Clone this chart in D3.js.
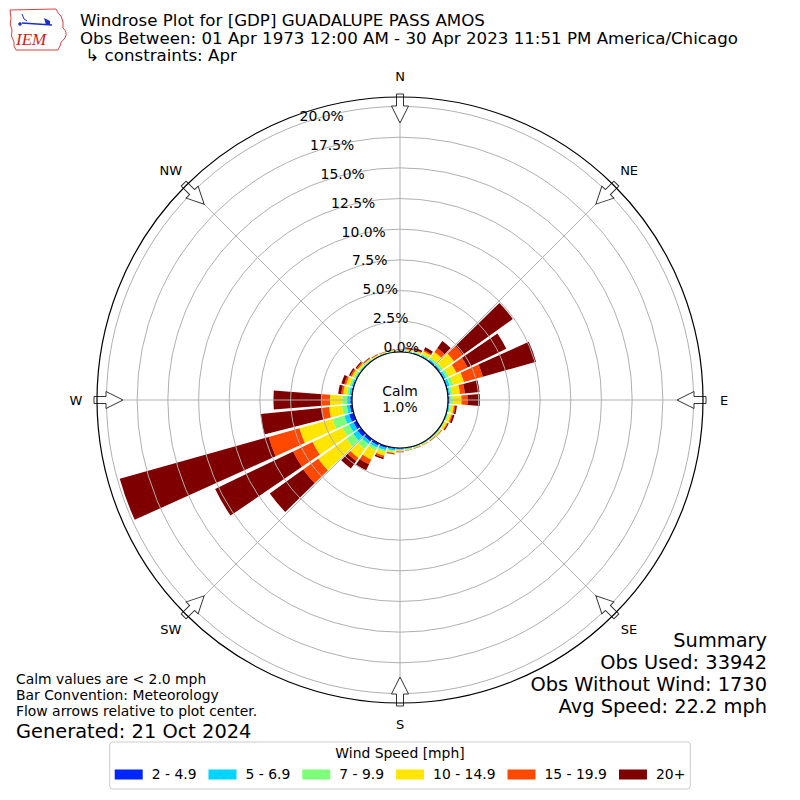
<!DOCTYPE html>
<html>
<head>
<meta charset="utf-8">
<script src="https://cdn.jsdelivr.net/npm/d3@7"></script>
<style>
  body { margin: 0; background: #fff; }
  svg { font-family: "DejaVu Sans", sans-serif; }
</style>
</head>
<body>
<svg id="chart" width="800" height="800"></svg>
<script>
// direction bins (degrees, meteorological, from north clockwise)
let directions = [0, 10, 20, 30, 40, 50, 60, 70, 80, 90, 100, 110, 120, 130, 140, 150, 160, 170,
  180, 190, 200, 210, 220, 230, 240, 250, 260, 270, 280, 290, 300, 310, 320, 330, 340, 350];

// percent of obs per speed bin, one value per direction
let speed2to5 = [.05, .05, .05, .07, .10, .10, .10, .10, .10, .10, .05, .05, .05, .05, .05, .05, .05, .06,
  .08, .10, .15, .20, .25, .35, .30, .40, .20, .15, .10, .08, .06, .05, .05, .04, .04, .04];
let speed5to7 = [.05, .05, .07, .08, .10, .10, .15, .20, .10, .10, .10, .07, .05, .05, .05, .05, .05, .06,
  .07, .12, .20, .20, .25, .45, .40, .40, .25, .25, .15, .12, .09, .07, .05, .04, .04, .04];
let speed7to10 = [.05, .05, .08, .10, .15, .20, .25, .30, .20, .20, .10, .08, .05, .05, .03, .03, .03, .04,
  .05, .10, .15, .25, .50, .70, .60, 1.00, .40, .40, .20, .15, .10, .08, .05, .04, .04, .04];
let speed10to15 = [.05, .10, .10, .25, .55, 1.10, .70, .90, .60, .70, .25, .25, .20, .10, .07, .07, .05, .06,
  .08, .13, .30, .85, .90, 2.80, 2.70, 2.80, 1.05, 1.00, .30, .30, .20, .15, .10, .06, .05, .06];
let speed15to20 = [.03, .05, .05, .10, .40, .90, 1.00, 1.60, .40, .50, .12, .10, .07, .03, .02, .02, .02, .02,
  .04, .05, .15, .40, .30, 1.50, 1.75, 2.60, .65, .65, .15, .15, .13, .10, .05, .04, .03, .03];
let speed20plus = [.02, .10, .15, .25, .70, 5.00, 3.50, 4.50, 1.20, 1.00, .13, .15, .08, .02, .03, .01, .02, .02,
  .03, .05, .15, .55, .75, 3.35, 7.05, 12.60, 4.95, 3.95, .25, .25, .12, .10, .05, .03, .02, .03];

let speedLabels = ["2 - 4.9", "5 - 6.9", "7 - 9.9", "10 - 14.9", "15 - 19.9", "20+"];
let speedColors = ["#0026ff", "#00d4ff", "#7dff7a", "#ffe500", "#ff4800", "#7f0000"];

let rTicks = [0, 2.5, 5, 7.5, 10, 12.5, 15, 17.5, 20];
let compass = ["N", "NE", "E", "SE", "S", "SW", "W", "NW"];
let compassAngles = [0, 45, 90, 135, 180, 225, 270, 315];

let calmPct = "1.0%";
let titleLines = [
  "Windrose Plot for [GDP] GUADALUPE PASS AMOS",
  "Obs Between: 01 Apr 1973 12:00 AM - 30 Apr 2023 11:51 PM America/Chicago",
  " \u21b3 constraints: Apr"
];
let footLines = ["Calm values are < 2.0 mph", "Bar Convention: Meteorology", "Flow arrows relative to plot center."];
let summaryLines = ["Summary", "Obs Used: 33942", "Obs Without Wind: 1730", "Avg Speed: 22.2 mph"];

let cx = 400, cy = 400;
let innerR = 48, outerR = 303;
let rad = (deg) => deg * Math.PI / 180;

let svg = d3.select("#chart");

let r = d3.scaleLinear().domain([0, 20.77]).range([innerR, outerR]);

let keys = ["s0", "s1", "s2", "s3", "s4", "s5"];
let series = [speed2to5, speed5to7, speed7to10, speed10to15, speed15to20, speed20plus];
let table = directions.map((dir, i) => {
  let row = { dir: dir };
  keys.forEach((k, j) => { row[k] = series[j][i]; });
  return row;
});
let stacked = d3.stack().keys(keys)(table);

let plot = svg.append("g").attr("transform", `translate(${cx},${cy})`);

let halfWidth = 4.3;
let arc = d3.arc()
  .innerRadius((d) => r(d[0]))
  .outerRadius((d) => r(d[1]))
  .startAngle((d) => rad(d.data.dir - halfWidth))
  .endAngle((d) => rad(d.data.dir + halfWidth));

plot.selectAll("g.layer")
  .data(stacked)
  .enter()
  .append("g")
  .attr("class", "layer")
  .attr("fill", (d, i) => speedColors[i])
  .selectAll("path")
  .data((d) => d)
  .enter()
  .append("path")
  .attr("d", arc);

// grid on top of the bars
plot.selectAll("circle.ring")
  .data(rTicks)
  .enter()
  .append("circle")
  .attr("class", "ring")
  .attr("r", (d) => r(d))
  .attr("fill", "none")
  .attr("stroke", "#b0b0b0")
  .attr("stroke-width", 1);

plot.selectAll("line.spoke")
  .data(compassAngles)
  .enter()
  .append("line")
  .attr("x1", (d) => innerR * Math.sin(rad(d)))
  .attr("y1", (d) => -innerR * Math.cos(rad(d)))
  .attr("x2", (d) => outerR * Math.sin(rad(d)))
  .attr("y2", (d) => -outerR * Math.cos(rad(d)))
  .attr("stroke", "#b0b0b0")
  .attr("stroke-width", 1);

// radial tick labels along the -20 degree ray
let labelAngle = rad(-20);
plot.selectAll("text.rlabel")
  .data(rTicks)
  .enter()
  .append("text")
  .attr("x", (d) => r(d) * Math.sin(labelAngle))
  .attr("y", (d) => -r(d) * Math.cos(labelAngle) - 3)
  .attr("font-size", "13.9px")
  .attr("fill", "#000")
  .text((d) => d3.format(".1f")(d) + "%");

// flow arrows
plot.selectAll("path.arrow")
  .data(compassAngles)
  .enter()
  .append("path")
  .attr("transform", (d) => `rotate(${d})`)
  .attr("d", "M0,-277 L8.5,-294 L3.5,-294 L3.5,-306 L-3.5,-306 L-3.5,-294 L-8.5,-294 Z")
  .attr("fill", "#fff")
  .attr("stroke", "#333")
  .attr("stroke-width", 1);

plot.append("circle")
  .attr("r", outerR)
  .attr("fill", "none")
  .attr("stroke", "#000")
  .attr("stroke-width", 1.2);

plot.selectAll("text.dir")
  .data(compass)
  .enter()
  .append("text")
  .attr("x", (d, i) => 324 * Math.sin(rad(compassAngles[i])))
  .attr("y", (d, i) => -324 * Math.cos(rad(compassAngles[i])))
  .attr("text-anchor", "middle")
  .attr("dominant-baseline", "central")
  .attr("font-size", "13px")
  .text((d) => d);

// calm circle
plot.append("circle")
  .attr("r", innerR)
  .attr("fill", "#fff")
  .attr("stroke", "#000")
  .attr("stroke-width", 1.2);
plot.append("text").attr("y", -4).attr("text-anchor", "middle")
  .attr("font-size", "13.9px").text("Calm");
plot.append("text").attr("y", 12).attr("text-anchor", "middle")
  .attr("font-size", "13.9px").text(calmPct);

// title
svg.selectAll("text.title")
  .data(titleLines)
  .enter()
  .append("text")
  .attr("x", 80)
  .attr("y", (d, i) => 26 + i * 17.5)
  .attr("font-size", "16.67px")
  .attr("xml:space", "preserve")
  .style("white-space", "pre")
  .text((d) => d);

// IEM logo (rough)
let logo = svg.append("g").attr("transform", "translate(6,6)");
logo.append("path")
  .attr("d", "M4,4 L50,3 Q52,8 55,10 Q58,16 57,22 Q62,26 59,32 Q54,36 54,40 L52,44 L10,44 Q7,40 8,36 Q4,30 6,24 Q3,18 5,12 Z")
  .attr("fill", "none")
  .attr("stroke", "#d94040")
  .attr("stroke-width", 1);
logo.append("line").attr("x1", 16).attr("y1", 17).attr("x2", 46).attr("y2", 19)
  .attr("stroke", "#1b2fd0").attr("stroke-width", 1.6);
logo.append("path").attr("d", "M38,12 L44,15 L44,19 L40,19 Z").attr("fill", "#1b2fd0");
logo.append("path").attr("d", "M16,8 L18,13 L21,15").attr("fill", "none").attr("stroke", "#1b2fd0").attr("stroke-width", 1);
logo.append("circle").attr("cx", 14).attr("cy", 18).attr("r", 1.8).attr("fill", "#1b2fd0");
logo.append("text").attr("x", 10).attr("y", 39)
  .attr("font-family", "'Liberation Serif', serif")
  .attr("font-style", "italic")
  .attr("font-size", "17px")
  .attr("fill", "#d42020")
  .text("IEM");

// footer notes
svg.selectAll("text.foot")
  .data(footLines)
  .enter()
  .append("text")
  .attr("x", 16)
  .attr("y", (d, i) => 684 + i * 16)
  .attr("font-size", "13.9px")
  .text((d) => d);
svg.append("text").attr("x", 16).attr("y", 738)
  .attr("font-size", "19.4px").text("Generated: 21 Oct 2024");

svg.selectAll("text.summary")
  .data(summaryLines)
  .enter()
  .append("text")
  .attr("x", 767)
  .attr("y", (d, i) => 647 + i * 22)
  .attr("text-anchor", "end")
  .attr("font-size", "19.4px")
  .text((d) => d);

// legend
let legend = svg.append("g");
let legendBox = legend.append("rect")
  .attr("y", 742).attr("height", 47).attr("rx", 3)
  .attr("fill", "#fff").attr("stroke", "#cccccc").attr("stroke-width", 1);
legend.append("text").attr("x", 400).attr("y", 758)
  .attr("text-anchor", "middle").attr("font-size", "13.9px").text("Wind Speed [mph]");

let items = legend.selectAll("g.item")
  .data(speedLabels)
  .enter()
  .append("g")
  .attr("class", "item");
items.append("rect")
  .attr("width", 28).attr("height", 10).attr("y", 769.5)
  .attr("fill", (d, i) => speedColors[i]);
items.append("text")
  .attr("y", 779).attr("font-size", "13.9px")
  .text((d) => d);

let widths = [];
items.select("text").each(function () { widths.push(this.getComputedTextLength()); });
let total = d3.sum(widths) + widths.length * (28 + 9) + (widths.length - 1) * 12;
let xPos = 400 - total / 2;
items.each(function (d, i) {
  let g = d3.select(this);
  g.select("rect").attr("x", xPos);
  g.select("text").attr("x", xPos + 37);
  xPos += 37 + widths[i] + 12;
});
legendBox.attr("x", 400 - total / 2 - 5).attr("width", total + 10);
</script>
</body>
</html>
